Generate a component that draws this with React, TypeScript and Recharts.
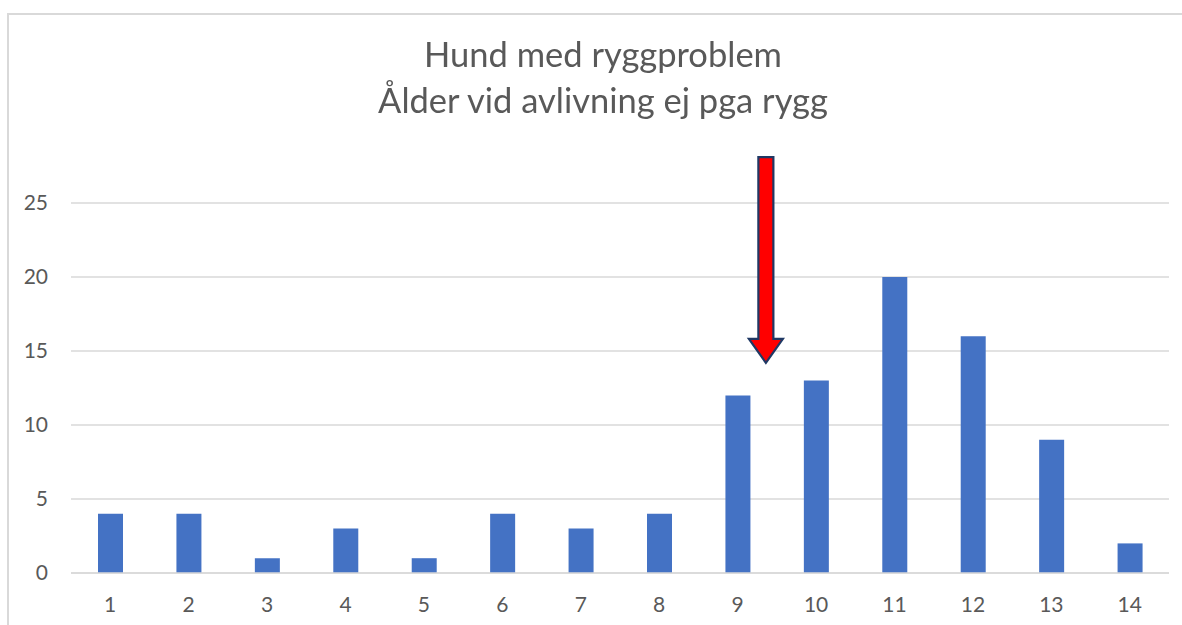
import React from "react";
import { BarChart, Bar, XAxis, YAxis, CartesianGrid, ReferenceLine } from "recharts";

const categories = [1, 2, 3, 4, 5, 6, 7, 8, 9, 10, 11, 12, 13, 14];
const counts = [4, 4, 1, 3, 1, 4, 3, 4, 12, 13, 20, 16, 9, 2];
const yTicks = [0, 5, 10, 15, 20, 25];
const titleLines = ["Hund med ryggproblem", "Ålder vid avlivning ej pga rygg"];
const arrowX = 9.36;
const arrowTop = 28.1;
const arrowTip = 14.2;

const data = categories.map((c, i) => ({ age: c, count: counts[i] }));

const FONT = "Lato, 'Open Sans', sans-serif";

const Arrow = (props: any) => {
  const { x1, y1, y2 } = props;
  if (x1 == null || y1 == null || y2 == null) return null;
  const top = Math.min(y1, y2);
  const tip = Math.max(y1, y2);
  const sw = 7.5;
  const hw = 17;
  const hh = 24;
  const pts = [
    [x1 - sw, top],
    [x1 + sw, top],
    [x1 + sw, tip - hh],
    [x1 + hw, tip - hh],
    [x1, tip],
    [x1 - hw, tip - hh],
    [x1 - sw, tip - hh],
  ]
    .map((p) => p.join(","))
    .join(" ");
  return <polygon points={pts} fill="#FF0000" stroke="#1F3864" strokeWidth={2.2} strokeLinejoin="miter" />;
};

export default function App() {
  return (
    <div>
      <div
        style={{
          position: "fixed",
          left: 7,
          top: 13,
          width: 1190,
          height: 630,
          border: "2px solid #d9d9d9",
          boxSizing: "border-box",
          background: "#fff",
        }}
      />
      <div style={{ position: "fixed", left: 0, top: 0, width: 1182, height: 625 }}>
        <BarChart
          width={1182}
          height={625}
          data={data}
          margin={{ top: 203, right: 13, bottom: 0, left: 0 }}
          barCategoryGap="34%"
        >
          <CartesianGrid vertical={false} stroke="#d9d9d9" strokeWidth={1.5} />
          <XAxis
            dataKey="age"
            type="number"
            domain={[0.5, 14.5]}
            ticks={categories}
            interval={0}
            allowDataOverflow
            height={52}
            axisLine={{ stroke: "#d9d9d9", strokeWidth: 1.5 }}
            tickLine={false}
            tickSize={0}
            tickMargin={24}
            fontSize={21}
            tick={{ fill: "#595959", fontSize: 21, fontFamily: FONT }}
          />
          <YAxis
            width={71}
            domain={[0, 25]}
            ticks={yTicks}
            axisLine={false}
            tickLine={false}
            tickSize={0}
            tickMargin={23}
            fontSize={21}
            tick={{ fill: "#595959", fontSize: 21, fontFamily: FONT }}
          />
          <Bar dataKey="count" fill="#4472C4" barSize={25} isAnimationActive={false} />
          <ReferenceLine
            segment={[
              { x: arrowX, y: arrowTop },
              { x: arrowX, y: arrowTip },
            ]}
            ifOverflow="visible"
            shape={Arrow}
          />
        </BarChart>
      </div>
      <div
        style={{
          position: "fixed",
          left: 0,
          top: 31,
          width: 1206,
          textAlign: "center",
          fontFamily: FONT,
          fontSize: 34.5,
          lineHeight: "46px",
          color: "#595959",
        }}
      >
        {titleLines.map((t) => (
          <div key={t}>{t}</div>
        ))}
      </div>
    </div>
  );
}
